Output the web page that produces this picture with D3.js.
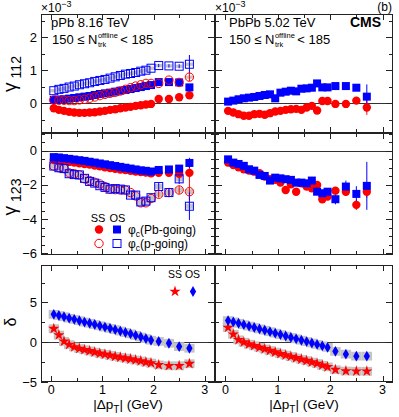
<!DOCTYPE html>
<html>
<head>
<meta charset="utf-8">
<script src="https://cdn.jsdelivr.net/npm/d3@7"></script>
<style>
  body { margin: 0; background: #fff; }
  svg { display: block; font-family: "Liberation Sans", Arial, Helvetica, sans-serif; }
</style>
</head>
<body>
<svg id="canvas" width="399" height="417"></svg>
<script>
// |delta pT| bin centres (GeV)
const dpt = [0.05,0.15,0.25,0.35,0.45,0.55,0.65,0.75,0.85,0.95,1.05,1.15,1.25,1.35,1.45,1.55,1.65,1.75,1.85,1.95,2.1,2.3,2.5,2.7];

// gamma_112 (x1e-3), pPb 8.16 TeV
const g112_pPb_SS_Pb = [-0.15,-0.20,-0.23,-0.26,-0.28,-0.29,-0.29,-0.28,-0.27,-0.25,-0.23,-0.20,-0.18,-0.15,-0.13,-0.11,-0.08,-0.06,-0.04,-0.02,0.13,0.13,0.18,0.24];
const g112_pPb_OS_Pb = [0.10,0.11,0.12,0.14,0.16,0.18,0.20,0.22,0.25,0.28,0.30,0.32,0.35,0.38,0.40,0.43,0.46,0.49,0.52,0.55,0.64,0.64,0.63,0.48];
const g112_pPb_SS_p  = [0.10,0.09,0.09,0.08,0.08,0.10,0.12,0.15,0.19,0.23,0.27,0.30,0.33,0.37,0.42,0.47,0.52,0.56,0.60,0.60,0.60,0.70,0.63,0.79];
const g112_pPb_OS_p  = [0.38,0.42,0.45,0.49,0.52,0.56,0.59,0.62,0.66,0.69,0.72,0.76,0.80,0.84,0.88,0.90,0.93,0.97,1.00,1.06,1.14,1.13,1.12,1.18];
// gamma_112 (x1e-3), PbPb 5.02 TeV
const g112_PbPb_SS = [-0.23,-0.28,-0.33,-0.38,-0.38,-0.33,-0.32,-0.35,-0.30,-0.25,-0.23,-0.20,-0.18,-0.17,-0.20,-0.13,-0.08,-0.22,0.07,0.07,-0.02,-0.02,0.08,-0.13];
const g112_PbPb_OS = [0.05,0.08,0.12,0.15,0.17,0.19,0.22,0.25,0.27,0.15,0.32,0.35,0.38,0.36,0.44,0.45,0.47,0.60,0.48,0.48,0.52,0.52,0.47,0.20];

// gamma_123 (x1e-4), pPb
const g123_pPb_SS_Pb = [-0.55,-0.58,-0.62,-0.66,-0.70,-0.74,-0.78,-0.82,-0.87,-0.92,-0.97,-1.02,-1.06,-1.10,-1.14,-1.18,-1.22,-1.25,-1.28,-1.32,-1.30,-1.30,-1.36,-1.30];
const g123_pPb_OS_Pb = [-0.38,-0.40,-0.44,-0.48,-0.52,-0.56,-0.60,-0.65,-0.70,-0.75,-0.80,-0.85,-0.90,-0.95,-1.00,-1.05,-1.10,-1.15,-1.18,-1.22,-1.13,-1.10,-1.05,-0.72];
const g123_pPb_SS_p  = [-0.90,-1.00,-1.05,-1.30,-1.35,-1.42,-1.65,-1.75,-1.85,-1.95,-2.10,-2.25,-2.28,-2.30,-2.30,-2.45,-2.65,-3.05,-3.05,-2.80,-2.55,-2.45,-2.30,-2.40];
const g123_pPb_OS_p  = [-0.90,-1.00,-1.05,-1.35,-1.40,-1.42,-1.62,-1.80,-1.90,-2.05,-2.15,-2.25,-2.22,-2.25,-2.30,-2.60,-2.60,-3.00,-2.95,-2.75,-2.10,-2.45,-1.65,-3.25];
// gamma_123 (x1e-4), PbPb
const g123_PbPb_SS = [-0.70,-0.84,-0.97,-1.09,-1.17,-1.23,-1.32,-1.52,-1.67,-1.71,-1.87,-2.30,-1.97,-2.40,-1.91,-2.10,-2.20,-2.01,-2.84,-2.69,-2.34,-2.40,-3.17,-2.40];
const g123_PbPb_OS = [-0.51,-0.70,-0.78,-0.89,-1.09,-1.17,-1.42,-1.48,-1.75,-1.58,-1.62,-1.67,-1.71,-1.87,-1.87,-1.91,-1.75,-2.40,-2.49,-2.40,-2.84,-2.10,-2.53,-2.06];

// delta
const d_pPb_SS  = [1.70,0.90,0.10,-0.30,-0.60,-0.80,-0.95,-1.10,-1.25,-1.40,-1.52,-1.65,-1.78,-1.90,-2.00,-2.12,-2.24,-2.36,-2.50,-2.62,-2.85,-2.96,-2.96,-2.70];
const d_pPb_OS  = [3.50,3.35,3.20,3.02,2.87,2.70,2.53,2.38,2.22,2.06,1.90,1.74,1.58,1.40,1.22,1.05,0.85,0.65,0.45,0.25,0.10,-0.13,-0.55,-0.76];
const d_PbPb_SS = [1.85,1.00,0.30,0.00,-0.25,-0.45,-0.65,-0.85,-1.05,-1.25,-1.45,-1.62,-1.80,-1.98,-2.15,-2.32,-2.50,-2.68,-2.90,-3.10,-3.45,-3.62,-3.65,-3.65];
const d_PbPb_OS = [2.72,2.55,2.38,2.20,2.02,1.85,1.67,1.50,1.32,1.14,0.96,0.78,0.60,0.42,0.25,0.08,-0.10,-0.28,-0.46,-0.65,-1.15,-1.50,-1.75,-1.75];

// stat errors of the four wide bins (2.1, 2.3, 2.5, 2.7); narrow-bin errors hide under markers
const ew_g112_pPb_SS_p  = [0.05,0.05,0.06,0.12];
const ew_g112_pPb_OS_p  = [0.05,0.05,0.06,0.28];
const ew_g112_PbPb_SS   = [0.04,0.05,0.06,0.22];
const ew_g112_PbPb_OS   = [0.04,0.05,0.06,0.37];
const ew_g123_pPb_SS_Pb = [0.08,0.10,0.15,0.60];
const ew_g123_pPb_OS_Pb = [0.08,0.10,0.12,0.30];
const ew_g123_pPb_SS_p  = [0.20,0.20,0.25,0.50];
const ew_g123_pPb_OS_p  = [0.25,0.25,0.30,0.80];
const ew_g123_PbPb_SS   = [0.20,0.25,0.30,0.35];
const ew_g123_PbPb_OS   = [0.30,0.35,0.45,1.40];

const xTicks = [0, 1, 2, 3];
const red = '#ff0000', blue = '#0000ff', sysGray = '#c4c4c4';

const svg = d3.select('#canvas');

const cols = [[41, 215], [215, 393]];
const rows = [
  {top: 14,  bottom: 133, domain: [-0.9, 2.7],  major: 1, minor: 0.5, labels: [0, 1, 2]},
  {top: 133, bottom: 255, domain: [-6.1, 1.03], major: 2, minor: 0.5, labels: [-6, -4, -2, 0]},
  {top: 265, bottom: 382, domain: [-5, 9.7],    major: 5, minor: 2.5, labels: [-5, 0, 5]}
];

const panels = [
  {row: 0, col: 0, sysH: 0.05, sysW: 0.14, series: [
    {v: g112_pPb_SS_Pb, c: red,  shape: 'circle'},
    {v: g112_pPb_OS_Pb, c: blue, shape: 'square'},
    {v: g112_pPb_SS_p,  c: red,  shape: 'circle', open: true, sys: true, ew: ew_g112_pPb_SS_p},
    {v: g112_pPb_OS_p,  c: blue, shape: 'square', open: true, sys: true, ew: ew_g112_pPb_OS_p}
  ]},
  {row: 0, col: 1, series: [
    {v: g112_PbPb_SS, c: red,  shape: 'circle', ew: ew_g112_PbPb_SS},
    {v: g112_PbPb_OS, c: blue, shape: 'square', ew: ew_g112_PbPb_OS}
  ]},
  {row: 1, col: 0, sysH: 0.15, sysW: 0.14, series: [
    {v: g123_pPb_SS_Pb, c: red,  shape: 'circle', ew: ew_g123_pPb_SS_Pb},
    {v: g123_pPb_OS_Pb, c: blue, shape: 'square', ew: ew_g123_pPb_OS_Pb},
    {v: g123_pPb_SS_p,  c: red,  shape: 'circle', open: true, sys: true, ew: ew_g123_pPb_SS_p},
    {v: g123_pPb_OS_p,  c: blue, shape: 'square', open: true, sys: true, ew: ew_g123_pPb_OS_p}
  ]},
  {row: 1, col: 1, series: [
    {v: g123_PbPb_SS, c: red,  shape: 'circle', ew: ew_g123_PbPb_SS},
    {v: g123_PbPb_OS, c: blue, shape: 'square', ew: ew_g123_PbPb_OS}
  ]},
  {row: 2, col: 0, sysH: 0.55, sysW: 0.2, series: [
    {v: d_pPb_SS, c: red,  shape: 'star',    sys: true},
    {v: d_pPb_OS, c: blue, shape: 'diamond', sys: true}
  ]},
  {row: 2, col: 1, sysH: 0.55, sysW: 0.2, series: [
    {v: d_PbPb_SS, c: red,  shape: 'star',    sys: true},
    {v: d_PbPb_OS, c: blue, shape: 'diamond', sys: true}
  ]}
];

function drawMarker(g, shape, color, open) {
  let m;
  if (shape === 'circle') {
    m = g.append('circle').attr('r', 4.2);
  } else if (shape === 'square') {
    m = g.append('rect').attr('x', -4).attr('y', -4).attr('width', 8).attr('height', 8);
  } else if (shape === 'star') {
    m = g.append('path').attr('d', d3.symbol(d3.symbolStar, 40)());
  } else {
    m = g.append('path').attr('d', d3.symbol(d3.symbolDiamond, 34)());
  }
  m.attr('fill', open ? 'none' : color)
   .attr('stroke', open ? color : 'none')
   .attr('stroke-width', 1);
  return m;
}

function stepRange(d0, d1, step) {
  const out = [];
  for (let k = Math.ceil(d0 / step - 1e-9); k * step <= d1 + 1e-9; k++) out.push(+(k * step).toFixed(6));
  return out;
}

const fmt = v => (v < 0 ? '\u2212' + Math.abs(v) : String(v));

panels.forEach(p => {
  const row = rows[p.row];
  const x = d3.scaleLinear().domain([-0.2, 3.2]).range(cols[p.col]);
  const y = d3.scaleLinear().domain(row.domain).range([row.bottom, row.top]);
  const g = svg.append('g');
  const [x0, x1] = cols[p.col];

  // zero line
  g.append('line')
    .attr('x1', x0).attr('x2', x1)
    .attr('y1', Math.round(y(0)) + 0.5).attr('y2', Math.round(y(0)) + 0.5)
    .attr('stroke', '#333').attr('stroke-width', 1);

  // systematic boxes
  p.series.filter(s => s.sys).forEach(s => {
    g.selectAll(null).data(s.v).enter().append('rect')
      .attr('x', (d, i) => x(dpt[i] - p.sysW / 2))
      .attr('width', x(p.sysW) - x(0))
      .attr('y', d => y(d + p.sysH))
      .attr('height', d => y(d - p.sysH) - y(d + p.sysH))
      .attr('fill', sysGray);
  });

  // error bars (wide bins)
  p.series.filter(s => s.ew).forEach(s => {
    s.ew.forEach((e, j) => {
      const i = 20 + j;
      g.append('line')
        .attr('x1', x(dpt[i])).attr('x2', x(dpt[i]))
        .attr('y1', y(s.v[i] - e)).attr('y2', y(s.v[i] + e))
        .attr('stroke', s.c).attr('stroke-width', 1);
    });
  });

  // markers
  p.series.forEach(s => {
    s.v.forEach((v, i) => {
      const mg = g.append('g').attr('transform', 'translate(' + x(dpt[i]) + ',' + y(v) + ')');
      drawMarker(mg, s.shape, s.c, s.open);
    });
  });

  // frame
  g.append('rect')
    .attr('x', x0 + 0.5).attr('y', row.top + 0.5)
    .attr('width', x1 - x0 - 1).attr('height', row.bottom - row.top - 1)
    .attr('fill', 'none').attr('stroke', '#222').attr('stroke-width', 1);

  // x ticks (top and bottom, inward)
  stepRange(0, 3, 0.5).forEach(t => {
    const len = Number.isInteger(t) ? 6 : 4;
    const xx = Math.round(x(t)) + 0.5;
    g.append('line').attr('x1', xx).attr('x2', xx)
      .attr('y1', row.bottom).attr('y2', row.bottom - len).attr('stroke', '#222');
    g.append('line').attr('x1', xx).attr('x2', xx)
      .attr('y1', row.top).attr('y2', row.top + len).attr('stroke', '#222');
  });

  // y ticks (left and right, inward)
  const majors = stepRange(row.domain[0], row.domain[1], row.major);
  stepRange(row.domain[0], row.domain[1], row.minor).forEach(t => {
    const isMajor = majors.some(m => Math.abs(m - t) < 1e-6);
    const len = isMajor ? 7 : 4;
    const yy = Math.round(y(t)) + 0.5;
    g.append('line').attr('x1', x0).attr('x2', x0 + len)
      .attr('y1', yy).attr('y2', yy).attr('stroke', '#222');
    g.append('line').attr('x1', x1).attr('x2', x1 - len)
      .attr('y1', yy).attr('y2', yy).attr('stroke', '#222');
  });

  // y tick labels on the left column
  if (p.col === 0) {
    row.labels.forEach(t => {
      g.append('text')
        .attr('x', x0 - 4).attr('y', y(t) + 4.5)
        .attr('text-anchor', 'end').attr('font-size', 13)
        .text(fmt(t));
    });
  }

  // x tick labels + title on the bottom row
  if (p.row === 2) {
    xTicks.forEach(t => {
      g.append('text')
        .attr('x', x(t)).attr('y', 394)
        .attr('text-anchor', 'middle').attr('font-size', 12.5)
        .text(t);
    });
    const tt = g.append('text')
      .attr('x', (x0 + x1) / 2).attr('y', 409)
      .attr('text-anchor', 'middle').attr('font-size', 13.5);
    tt.append('tspan').text('|\u0394p');
    tt.append('tspan').attr('font-size', 10).attr('dy', 3.5).text('T');
    tt.append('tspan').attr('dy', -3.5).text('| (GeV)');
  }
});

// y axis titles
function yTitle(cx, cy, main, sub, mainSize) {
  const t = svg.append('text')
    .attr('transform', 'translate(' + cx + ',' + cy + ') rotate(-90)')
    .attr('text-anchor', 'middle').attr('font-size', mainSize);
  t.append('tspan').text(main);
  if (sub) t.append('tspan').attr('font-size', 14).attr('dx', 4).attr('dy', 5).text(sub);
}
yTitle(16, 74, '\u03b3', '112', 19);
yTitle(16, 197, '\u03b3', '123', 19);
yTitle(16, 322, '\u03b4', null, 16);

// x10^-3 exponents
[41, 215].forEach(x0 => {
  const t = svg.append('text').attr('x', x0).attr('y', 12).attr('font-size', 12);
  t.append('tspan').text('\u00d710');
  t.append('tspan').attr('font-size', 9).attr('dy', -5).text('\u22123');
});

svg.append('text').attr('x', 392).attr('y', 11).attr('text-anchor', 'end')
  .attr('font-size', 12).text('(b)');
svg.append('text').attr('x', 381).attr('y', 27).attr('text-anchor', 'end')
  .attr('font-size', 14).attr('font-weight', 'bold').text('CMS');

// panel labels
function multLabel(x0, y0) {
  const a = svg.append('text').attr('x', x0).attr('y', y0).attr('font-size', 13).text('150 \u2264 N');
  const w = a.node().getComputedTextLength();
  const sup = svg.append('text').attr('x', x0 + w + 0.5).attr('y', y0 - 6).attr('font-size', 7.5).text('offline');
  svg.append('text').attr('x', x0 + w + 0.5).attr('y', y0 + 3).attr('font-size', 7.5).text('trk');
  const ws = sup.node().getComputedTextLength();
  svg.append('text').attr('x', x0 + w + ws + 3).attr('y', y0).attr('font-size', 13).text('< 185');
}
svg.append('text').attr('x', 51).attr('y', 27).attr('font-size', 13).text('pPb 8.16 TeV');
multLabel(52, 44);
svg.append('text').attr('x', 229).attr('y', 27).attr('font-size', 13).text('PbPb 5.02 TeV');
multLabel(229, 44);

// legend, gamma_123 panel
svg.append('text').attr('x', 98).attr('y', 222).attr('text-anchor', 'middle').attr('font-size', 11).text('SS');
svg.append('text').attr('x', 117.5).attr('y', 222).attr('text-anchor', 'middle').attr('font-size', 11).text('OS');
const legRows = [
  {y: 229.5, open: false, label: '(Pb-going)'},
  {y: 243.5, open: true,  label: '(p-going)'}
];
legRows.forEach(r => {
  drawMarker(svg.append('g').attr('transform', 'translate(99,' + r.y + ')'), 'circle', red, r.open);
  drawMarker(svg.append('g').attr('transform', 'translate(117,' + r.y + ')'), 'square', blue, r.open);
  const t = svg.append('text').attr('x', 128).attr('y', r.y + 4).attr('font-size', 12);
  t.append('tspan').text('\u03c6');
  t.append('tspan').attr('font-size', 8.5).attr('dy', 3).text('c');
  t.append('tspan').attr('dy', -3).text(r.label);
});

// legend, delta panel
svg.append('text').attr('x', 168).attr('y', 278).attr('font-size', 10.5).text('SS OS');
drawMarker(svg.append('g').attr('transform', 'translate(175,291.5)'), 'star', red, false);
drawMarker(svg.append('g').attr('transform', 'translate(193,291.5)'), 'diamond', blue, false);
</script>
</body>
</html>
